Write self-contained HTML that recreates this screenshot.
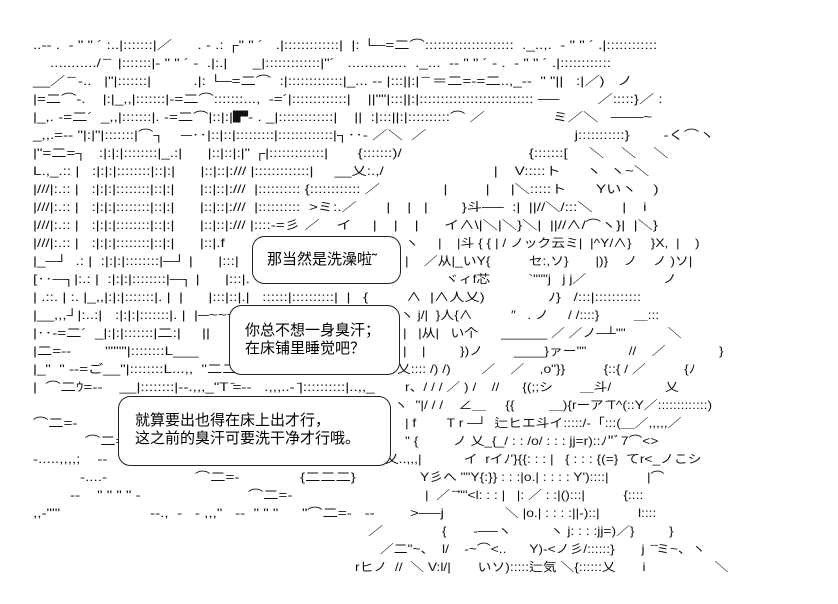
<!DOCTYPE html>
<html><head><meta charset="utf-8">
<style>
html,body{margin:0;padding:0;background:#fff;}
#w{position:relative;width:838px;height:604px;overflow:hidden;font-family:"Liberation Sans","Noto Sans CJK JP",sans-serif;color:#111;}
.r{position:absolute;white-space:pre;font-size:12px;line-height:14px;transform:scaleX(1.27);transform-origin:0 0;}
.s{transform:scaleX(1.15);}
.t{position:absolute;white-space:pre;font-size:15px;line-height:18px;font-family:"Liberation Sans","Noto Sans CJK SC",sans-serif;color:#000;}
svg{position:absolute;left:0;top:0;}
</style></head><body><div id="w">
<div class="r" style="left:33px;top:38px">..‐‐ .  ‐ " " ´ :..|:::::::|／      . ‐ .: ┌" " ´   .|:::::::::::::|  |: └─=二⌒:::::::::::::::::::::  ._..,.  ‐ " " ´ .|::::::::::::</div>
<div class="r" style="left:50px;top:56px">.........../ ̄ ̄  |:::::::|‐ " " ´ ‐  .|:.|      _|:::::::::::::|"´   ..............  ._...  ‐‐ " " ´ ‐ .  ‐ " " ´ .|::::::::::::</div>
<div class="r" style="left:33px;top:74px">__／ ̄ ̄ ‐..   |"|:::::::|          .|: └─=二⌒  :|:::::::::::::|_... ‐‐ |:::||:| ̄ ̄ ＝二=‐=二..,_‐‐  " "||   :|／)   ノ</div>
<div class="r" style="left:33px;top:92px">|=二⌒‐.    |:|_,,|:::::::|‐=二⌒:::::::...,  ‐=´|:::::::::::::|    ||""|:::||:|::::::::::::::::::::::::::: ──         ／:::::}／ :</div>
<div class="r" style="left:33px;top:110px">|_,. ‐=二´  _,,|:::::::|. ‐=二⌒|::|:|▛‐ . _|:::::::::::::|    ||  :|:::||:|::::::::::⌒ ／                ミ／＼   ───~</div>
<div class="r" style="left:33px;top:128px">_,,.=‐‐ "|:|"|:::::::|⌒┐    ─‥|::|::|:::::::::|:::::::::::::|┐‥‐ ／＼  ／                                   j:::::::::::}        ‐く⌒ヽ</div>
<div class="r" style="left:33px;top:146px">|"=二=┐   :|:|:|::::::::|_.:|      |::|::|:|" ┌|:::::::::::::|       {:::::::)/                              {:::::::[     ＼    ＼    ＼</div>
<div class="r" style="left:33px;top:164px">L.,_.:: |   :|:|:|::::::::|::|:|      |::|::|:/// |:::::::::::::|     __乂:.,/                          |    V:::::ト      ヽ  ヽ~＼</div>
<div class="r" style="left:33px;top:182px">|///|:.:: |   :|:|:|::::::::|::|:|      |::|::|:///  |:::::::::: {:::::::::::: ／               |         |     |＼:::::ト       Yいヽ    )</div>
<div class="r" style="left:33px;top:200px">|///|:.:: |   :|:|:|::::::::|::|:|      |::|::|:///  |::::::::::  >ミ:.／       |    |   |        }斗──  :|  ||//＼/:::＼       |    i</div>
<div class="r" style="left:33px;top:218px">|///|:.:: |   :|:|:|::::::::|::|:|      |::|::|:/// |::::‐=彡 ／    イ     |    |    |      イ∧\|＼|＼}＼|  ||//∧/⌒ヽ}|  |＼}</div>
<div class="r" style="left:33px;top:236px">|///|:.:: |   :|:|:|::::::::|::|:|      |::|.f</div>
<div class="r s" style="left:405px;top:236px">ヽ     |    |斗 { { | / ノック云ミ|  |^Y/∧}     }X,  |    )</div>
<div class="r" style="left:33px;top:254px">|_─┘  .: |  :|:|:|::::::::|─┘ |      |:::|</div>
<div class="r s" style="left:405px;top:254px">|    ／从|_いY{          セ:,ソ}       |)}    ノ    ノ )ソ|</div>
<div class="r" style="left:33px;top:272px">[‥─┐|:.: |  :|:|:|::::::::|─┐ |      |:::|.ヽ</div>
<div class="r s" style="left:445px;top:272px">ヾィf芯          `"""j   j j／                    ノ</div>
<div class="r" style="left:33px;top:290px">| .::. | :. |_,,|:|:|:::::::|. |  |      |:::|::|.|   ::::::|::::::::::|  |   {         ∧  |∧人乂)               ﾉ}   /:::|:::::::::::</div>
<div class="r" style="left:33px;top:308px">|__,,,┘|:..:|   :|:|:|:::::::|. |  |─~~~‥</div>
<div class="r s" style="left:400px;top:308px">ヽ j/|  }人{∧          ″   . ノ     / /::::}         ＿:::</div>
<div class="r" style="left:33px;top:326px">|‥‐=二´  _|:|:|:::::::|二:|     ||</div>
<div class="r s" style="left:403px;top:326px">|   |从|   い个      ______ ／ ／ノ─┴""           ＼</div>
<div class="r" style="left:33px;top:344px">|二=‐‐        """"|::::::::L___        ||</div>
<div class="r s" style="left:403px;top:344px">|    |         })ノ        ____}ァー""           //    ／              }</div>
<div class="r" style="left:33px;top:362px">|_"  " ‐‐=ご__"|::::::::L...,,  "二二ヽ</div>
<div class="r s" style="left:397px;top:362px">乂:::: /) /)        ／    ／    ,o"}}          {::{ / ／          {ﾉ</div>
<div class="r" style="left:33px;top:380px">|  ⌒二ｳ=‐‐    __|::::::::|‐‐.,,,_"T ̄=‐‐   .,,,..‐ ̄|::::::::::|..,,_</div>
<div class="r s" style="left:405px;top:380px">r、/ / / ／ ) /    //      {(;;シ       ＿斗/              乂</div>
<div class="r s" style="left:394px;top:398px">ヽ  "|/ / /    ∠＿     {{         ＿){rーア ̄T^(::Y／:::::::::::::)</div>
<div class="r" style="left:33px;top:416px">⌒二=‐</div>
<div class="r s" style="left:405px;top:416px">| f        T r ─┘  辷ヒエ斗イ:::::/‐「:::(＿／,,,,,／</div>
<div class="r" style="left:85px;top:434px">⌒二=</div>
<div class="r s" style="left:405px;top:434px">" {         ノ 乂_{_/ : : /o/ : : : jj=r)::ﾉ"ﾞ7⌒&lt;&gt;</div>
<div class="r" style="left:33px;top:452px">‐.....,,,,;    ‐‐    " ヽ</div>
<div class="r s" style="left:385px;top:452px">乂..,,,|           イ  rイﾉ'}{{: : : |   { : : : {(=}  てr&lt;_ノこシ</div>
<div class="r" style="left:80px;top:470px">‐....‐</div>
<div class="r" style="left:195px;top:470px">⌒二=‐</div>
<div class="r" style="left:300px;top:470px">{二二二}</div>
<div class="r s" style="left:420px;top:470px">Y彡へ ""Y{:}} : : :|o.| : : : : Y')::::|          |⌒</div>
<div class="r" style="left:70px;top:488px">‐‐    " " " " ‐</div>
<div class="r" style="left:248px;top:488px">⌒二=‐</div>
<div class="r s" style="left:425px;top:488px">|  ／ ̄ ̄""&lt;l: : : |   |: ／ : :|():::|          {::::</div>
<div class="r" style="left:33px;top:506px">,,‐""'</div>
<div class="r" style="left:150px;top:506px">‐‐.,  ‐   ‐ ,,,"   ‐‐  " " "</div>
<div class="r" style="left:302px;top:506px">"⌒二=‐   ‐‐</div>
<div class="r" style="left:410px;top:506px">&gt;──j</div>
<div class="r s" style="left:505px;top:506px">＼ |o.| : : : :||‐)::|          l::::</div>
<div class="r" style="left:368px;top:524px">／</div>
<div class="r s" style="left:442px;top:524px">{       ‐──ヽ          ヽ j: : : :jj=)／}         }</div>
<div class="r s" style="left:380px;top:542px">／二"~、  l/    ‐~⌒&lt;..      Y)‐&lt;ノ彡/::::::}       j  ̄ ̄ミ~、ヽ</div>
<div class="r s" style="left:355px;top:560px">rヒノ  //  ＼ V:l/|       いソ):::::辷気 ＼{::::::乂       i                  ＼</div>
<svg width="838" height="604">
<g fill="#fff" stroke="#222" stroke-width="1">
<rect x="252.5" y="236.5" width="148" height="47" rx="12"/>
<rect x="229.5" y="305.5" width="170" height="69" rx="12"/>
<rect x="118.5" y="396.5" width="272" height="69" rx="12"/>
</g></svg>
<div class="t" style="left:267px;top:251px">那当然是洗澡啦˜</div>
<div class="t" style="left:245px;top:322px">你总不想一身臭汗；</div>
<div class="t" style="left:245px;top:340px">在床铺里睡觉吧？</div>
<div class="t" style="left:135px;top:412px">就算要出也得在床上出才行，</div>
<div class="t" style="left:135px;top:430px">这之前的臭汗可要洗干净才行哦。</div>
</div></body></html>
